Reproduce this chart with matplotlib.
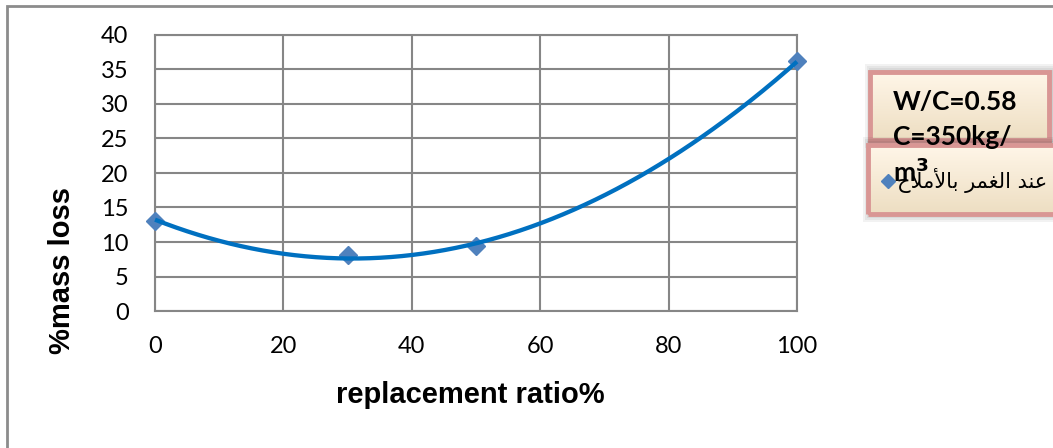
import numpy as np
import matplotlib
matplotlib.use("Agg")
import matplotlib.pyplot as plt
from matplotlib.patches import Rectangle
from matplotlib.lines import Line2D

# Mass loss after immersion in salts vs. replacement ratio
replacement_ratio = [0, 30, 50, 100]
mass_loss = [13.1, 8.1, 9.4, 36.2]

x_ticks = [0, 20, 40, 60, 80, 100]
y_ticks = [0, 5, 10, 15, 20, 25, 30, 35, 40]

x_label = "replacement ratio%"
y_label = "%mass loss"
mix_note = ["W/C=0.58", "C=350kg/", "m$^{\\mathbf{3}}$"]
# "عند الغمر بالأملاح" written in shaped presentation forms, visual order
series_name = ("\uFEA1\uFEFC\uFEE3\uFEF7\uFE8E\uFE91 "
               "\uFEAE\uFEE4\uFED0\uFEDF\uFE8D "
               "\uFEAA\uFEE8\uFECB")

W, H = 1053, 448
fig = plt.figure(figsize=(W / 100, H / 100), dpi=100)
fig.patch.set_facecolor("white")

def fx(px):
    return px / W

def fy(py):
    return 1 - py / H

grid_col = "#868686"
ax = fig.add_axes([fx(155), fy(311), fx(797) - fx(155), fy(35) - fy(311)])
ax.set_xlim(0, 100)
ax.set_ylim(0, 40)
ax.set_xticks(x_ticks)
ax.set_yticks(y_ticks)
ax.grid(True, color=grid_col, lw=1.5)
ax.set_axisbelow(True)
for s in ax.spines.values():
    s.set_color(grid_col)
    s.set_linewidth(1.5)
ax.tick_params(axis="y", length=0, labelsize=17, pad=19)
ax.tick_params(axis="x", length=0, labelsize=17, pad=18)
for lab in ax.get_xticklabels() + ax.get_yticklabels():
    lab.set_fontfamily("Lato")

# data points
ax.plot(replacement_ratio, mass_loss, linestyle="none", marker="D",
        markersize=9, color="#4F81BD", zorder=3, clip_on=False)

# second-order polynomial trendline
coef = np.polyfit(replacement_ratio, mass_loss, 2)
xs = np.linspace(0, 100, 300)
ax.plot(xs, np.polyval(coef, xs), color="#0070C0", lw=3.1, zorder=4,
        solid_capstyle="butt", clip_on=False)

# axis titles
fig.text(fx(470), fy(395), x_label, ha="center", va="center",
         fontsize=21, fontweight="bold", family="Liberation Sans")
fig.text(fx(62), fy(270), y_label, ha="center", va="center", rotation=90,
         fontsize=21, fontweight="bold", family="Liberation Sans")

# outer chart frame
fig.patches.append(Rectangle((fx(7), -0.1), 1.2, fy(6) + 0.1,
                             transform=fig.transFigure, fill=False,
                             edgecolor="#8C8C8C", lw=2, zorder=0))

def box(x0, y0, x1, y1, z):
    # soft shadow
    for i in range(4):
        d = 2 + i * 2
        fig.patches.append(Rectangle((fx(x0 - d + 3), fy(y1 + d)),
                                     fx(x1 - x0 + 2 * d), fy(y0) - fy(y1) + 2 * d / H,
                                     transform=fig.transFigure, facecolor="#000000",
                                     alpha=0.05, edgecolor="none", zorder=z))
    gax = fig.add_axes([fx(x0), fy(y1), fx(x1) - fx(x0), fy(y0) - fy(y1)], zorder=z + 1)
    grad = np.linspace(0, 1, 64)[:, None]
    top = np.array([1.0, 0.965, 0.91])
    bot = np.array([0.93, 0.87, 0.76])
    img = top[None, None, :] * (1 - grad[:, :, None]) + bot[None, None, :] * grad[:, :, None]
    gax.imshow(img, aspect="auto", extent=[0, 1, 0, 1])
    gax.set_axis_off()
    fig.patches.append(Rectangle((fx(x0), fy(y1)), fx(x1) - fx(x0), fy(y0) - fy(y1),
                                 transform=fig.transFigure, fill=False,
                                 edgecolor="#D99694", lw=3.5, zorder=z + 2))
    return gax

box(870, 72, 1049, 140, 5)
box(868, 145, 1060, 214, 8)

# legend entry
fig.add_artist(Line2D([fx(888)], [fy(181)], marker="D", markersize=7,
                      color="#4F81BD", linestyle="none", zorder=20))
fig.text(fx(897), fy(180), series_name, ha="left", va="center",
         fontsize=15, family=["DejaVu Sans"], zorder=20)

# mix-design note
for i, line in enumerate(mix_note):
    fig.text(fx(893), fy(102 + 35 * i), line, ha="left", va="center",
             fontsize=19, fontweight="bold", family="Lato", zorder=21)

fig.savefig("out.png", dpi=100)
